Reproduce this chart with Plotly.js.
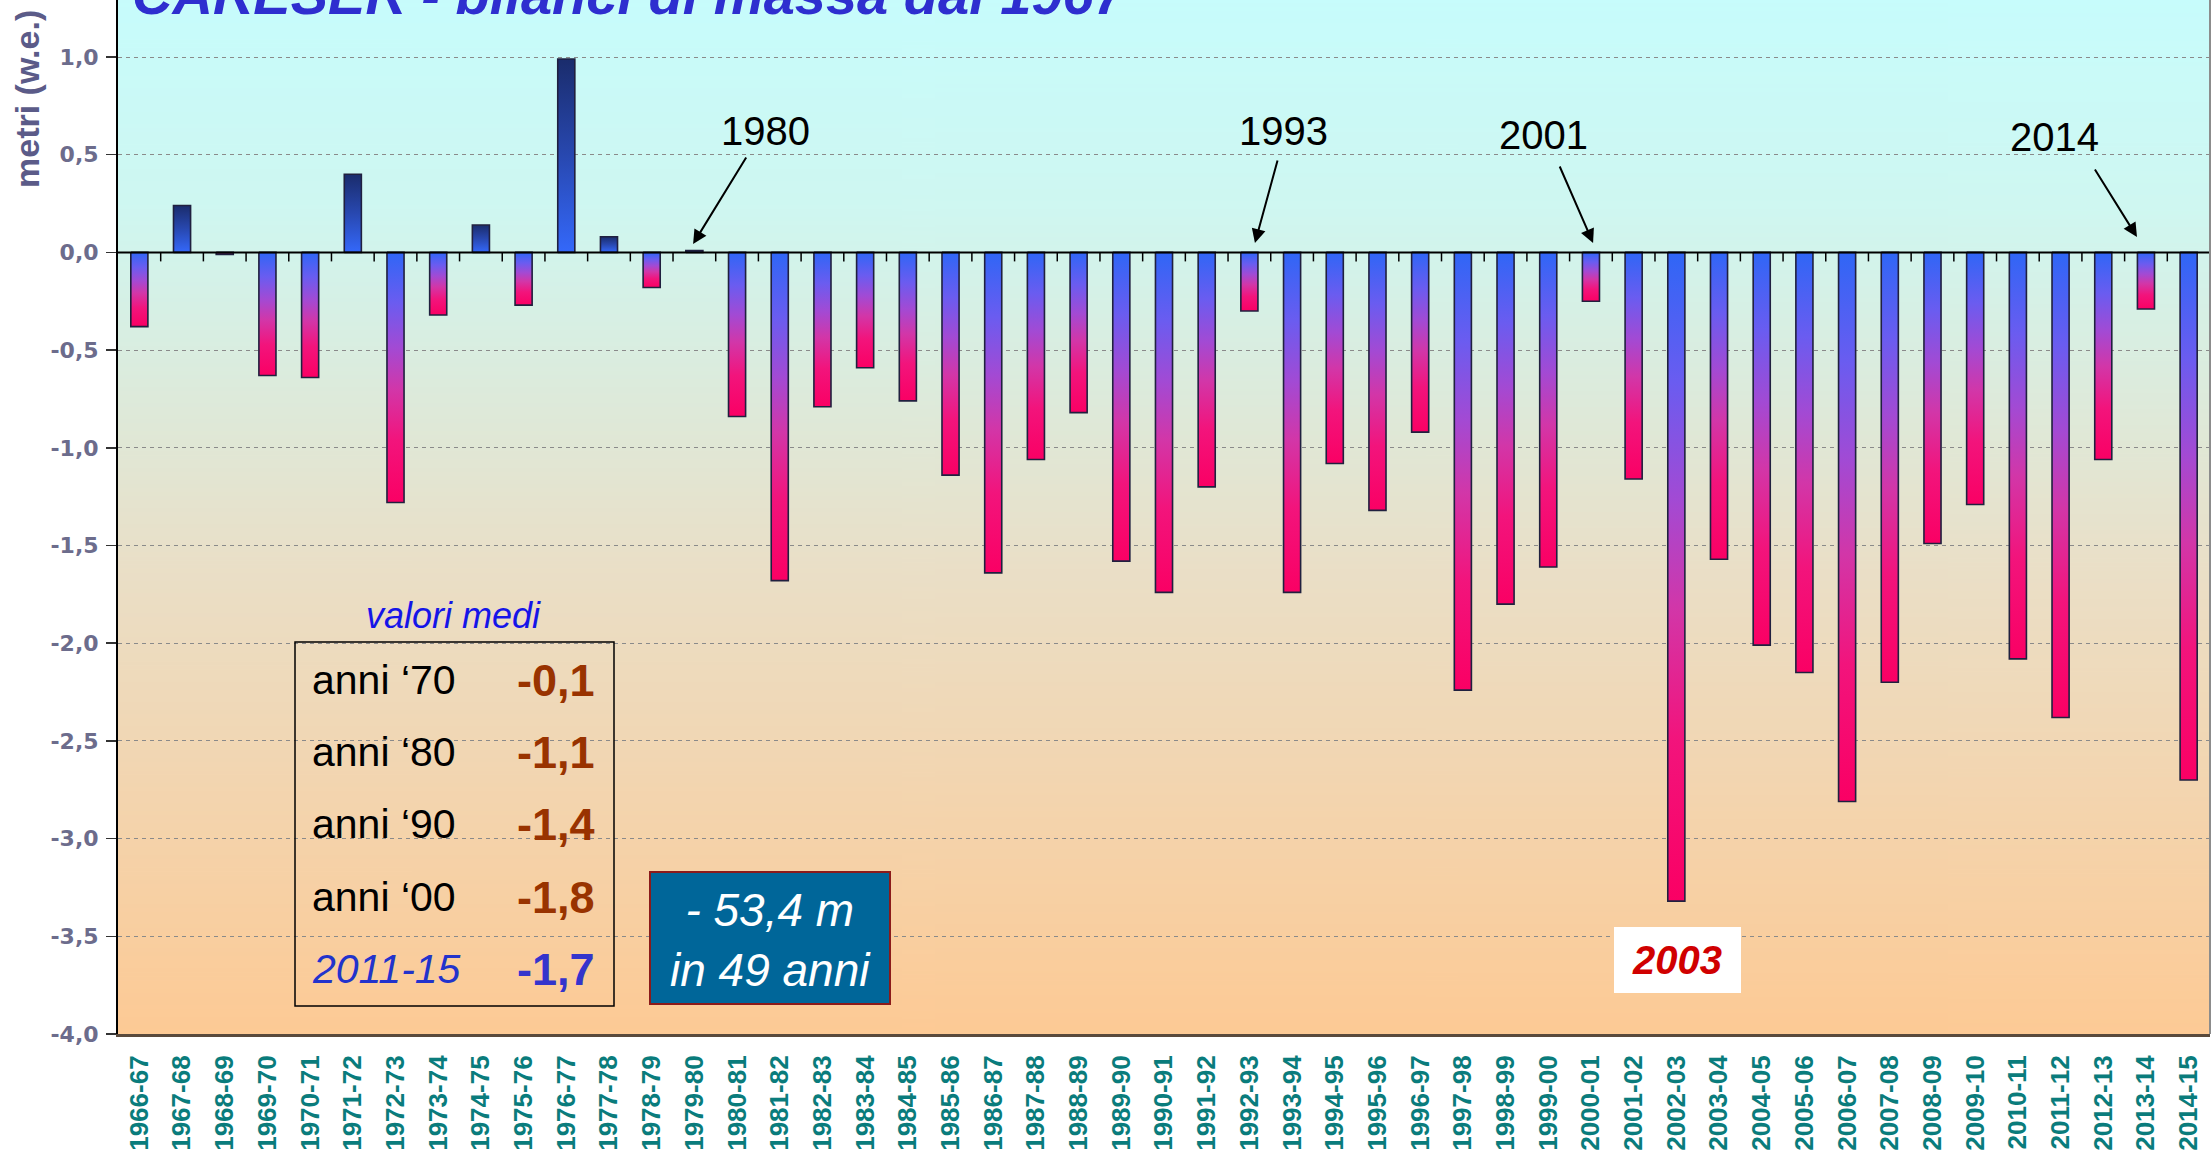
<!DOCTYPE html>
<html>
<head>
<meta charset="utf-8">
<script src="https://cdn.plot.ly/plotly-3.0.1.min.js"></script>
<style>
  html, body { margin: 0; padding: 0; background: #ffffff; }
  #chart { width: 2212px; height: 1175px; }
</style>
</head>
<body>
<div id="chart"></div>
<script>
// ---------------- DATA ----------------
const seasons = [
  "1966-67","1967-68","1968-69","1969-70","1970-71","1971-72","1972-73","1973-74","1974-75","1975-76",
  "1976-77","1977-78","1978-79","1979-80","1980-81","1981-82","1982-83","1983-84","1984-85","1985-86",
  "1986-87","1987-88","1988-89","1989-90","1990-91","1991-92","1992-93","1993-94","1994-95","1995-96",
  "1996-97","1997-98","1998-99","1999-00","2000-01","2001-02","2002-03","2003-04","2004-05","2005-06",
  "2006-07","2007-08","2008-09","2009-10","2010-11","2011-12","2012-13","2013-14","2014-15"
];
// annual mass balance, metres water equivalent
const balance = [
  -0.38, 0.24, -0.01, -0.63, -0.64, 0.40, -1.28, -0.32, 0.14, -0.27,
   0.99, 0.08, -0.18, 0.01, -0.84, -1.68, -0.79, -0.59, -0.76, -1.14,
  -1.64, -1.06, -0.82, -1.58, -1.74, -1.20, -0.30, -1.74, -1.08, -1.32,
  -0.92, -2.24, -1.80, -1.61, -0.25, -1.16, -3.32, -1.57, -2.01, -2.15,
  -2.81, -2.20, -1.49, -1.29, -2.08, -2.38, -1.06, -0.29, -2.70
];
const yTickVals = [1.0, 0.5, 0.0, -0.5, -1.0, -1.5, -2.0, -2.5, -3.0, -3.5, -4.0];
const yTickText = ["1,0","0,5","0,0","-0,5","-1,0","-1,5","-2,0","-2,5","-3,0","-3,5","-4,0"];

const meanLabels = ["anni \u201870", "anni \u201880", "anni \u201890", "anni \u201800", "2011-15"];
const meanValues = [-0.1, -1.1, -1.4, -1.8, -1.7];

const highlightedYears = ["1980", "1993", "2001", "2014"];
const recordYear = "2003";
const totalLoss = -53.4;      // metres
const totalYears = 49;

const titleText = "CARESER - bilanci di massa dal 1967";
const yTitleText = "metri (w.e.)";

// ---------------- STYLE ----------------
const fmt = v => (v < 0 ? "-" : "") + Math.abs(v).toFixed(1).replace(".", ",");
const halfW = 0.2;
const negScale = [[0,'#FA0064'],[0.25,'#F2147C'],[0.45,'#D236A8'],[0.62,'#A24AD4'],[0.8,'#6A5CF0'],[1,'#2F66F6']];
const posScale = [[0,'#3468FA'],[0.5,'#2848B0'],[1,'#1A2C6C']];

// plot area geometry (pixels) for paper-space placement
const PL = 118, PW = 2092, PT = 0, PH = 1034;
const px = x => (x - PL) / PW;
const py = y => (PH - y) / PH;

// background gradient image
const cv = document.createElement('canvas');
cv.width = 4; cv.height = 512;
const ctx = cv.getContext('2d');
const grd = ctx.createLinearGradient(0, 0, 0, 512);
grd.addColorStop(0, '#C7FCFC');
grd.addColorStop(0.2, '#CFF7F1');
grd.addColorStop(0.55, '#EADFC7');
grd.addColorStop(1, '#FDCA95');
ctx.fillStyle = grd; ctx.fillRect(0, 0, 4, 512);
const bgSrc = cv.toDataURL();

// ---------------- TRACES ----------------
const traces = balance.map((v, i) => ({
  type: 'scatter',
  mode: 'lines',
  x: [i - halfW, i + halfW, i + halfW, i - halfW, i - halfW],
  y: [0, 0, v, v, 0],
  fill: 'toself',
  fillgradient: { type: 'vertical', colorscale: v < 0 ? negScale : posScale },
  line: { color: '#20203F', width: 1.6 },
  hoverinfo: 'text',
  text: seasons[i] + ': ' + fmt(v),
  showlegend: false
}));

// ---------------- ANNOTATIONS ----------------
const ann = [];
ann.push({ xref:'paper', yref:'paper', x: px(130), y: py(28), xanchor:'left', yanchor:'bottom',
  text: '<b><i>' + titleText + '</i></b>', showarrow:false,
  font:{ family:'Liberation Sans, Arial, sans-serif', size:56, color:'#2E2ECF' } });
ann.push({ xref:'paper', yref:'paper', x: px(27), y: py(99), xanchor:'center', yanchor:'middle',
  textangle:-90, text:'<b>' + yTitleText + '</b>', showarrow:false,
  font:{ family:'Liberation Sans, Arial, sans-serif', size:34, color:'#5B5B88' } });

// year call-outs: text + arrow
const callText = [[14.66, 0.621], [26.81, 0.621], [32.88, 0.601], [44.85, 0.591]];
const callTip  = [[12.97, 0.043, 54, -88], [26.13, 0.048, 23, -84], [34.05, 0.048, -34, -78], [46.79, 0.079, -43, -69]];
highlightedYears.forEach((yr, k) => {
  ann.push({ xref:'x', yref:'y', x: callText[k][0], y: callText[k][1], xanchor:'center', yanchor:'middle',
    text: yr, showarrow:false,
    font:{ family:'Liberation Sans, Arial, sans-serif', size:40, color:'#000000' } });
  ann.push({ xref:'x', yref:'y', x: callTip[k][0], y: callTip[k][1], ax: callTip[k][2], ay: callTip[k][3],
    text:'', showarrow:true, arrowhead:2, arrowsize:1.4, arrowwidth:2, arrowcolor:'#000000', standoff:0 });
});

// mean values table
ann.push({ xref:'paper', yref:'paper', x: px(453), y: py(615), xanchor:'center', yanchor:'middle',
  text:'<i>valori medi</i>', showarrow:false,
  font:{ family:'Liberation Sans, Arial, sans-serif', size:36, color:'#1515E8' } });
const rowY = [680, 752, 824, 897, 969];
meanLabels.forEach((lab, k) => {
  const last = k === meanLabels.length - 1;
  ann.push({ xref:'paper', yref:'paper', x: px(310), y: py(rowY[k]), xanchor:'left', yanchor:'middle',
    text: last ? '<i>' + lab + '</i>' : lab, showarrow:false,
    font:{ family:'Liberation Sans, Arial, sans-serif', size:41, color: last ? '#2233CC' : '#000000' } });
  ann.push({ xref:'paper', yref:'paper', x: px(597), y: py(rowY[k]), xanchor:'right', yanchor:'middle',
    text: '<b>' + fmt(meanValues[k]) + '</b>', showarrow:false,
    font:{ family:'Liberation Sans, Arial, sans-serif', size:45, color: last ? '#3434CC' : '#993300' } });
});

// total loss box text
ann.push({ xref:'paper', yref:'paper', x: px(770), y: py(940), xanchor:'center', yanchor:'middle',
  text: '<i>- ' + Math.abs(totalLoss).toFixed(1).replace('.', ',') + ' m<br>in ' + totalYears + ' anni</i>',
  showarrow:false, font:{ family:'Liberation Sans, Arial, sans-serif', size:46, color:'#FFFFFF' } });

// record year label
ann.push({ xref:'paper', yref:'paper', x: px(1677), y: py(960), xanchor:'center', yanchor:'middle',
  text: '<b><i>' + recordYear + '</i></b>', showarrow:false,
  font:{ family:'Liberation Sans, Arial, sans-serif', size:40, color:'#D00000' } });

// ---------------- SHAPES ----------------
const shapes = [];
// tick marks on zero line at category boundaries
for (let k = 1; k < seasons.length; k++) {
  shapes.push({ type:'line', xref:'x', yref:'y', ysizemode:'pixel', yanchor:0,
    x0:k - 0.5, x1:k - 0.5, y0:0, y1:-9, line:{ color:'#000000', width:1.5 }, layer:'above' });
}
// zero line
shapes.push({ type:'line', xref:'paper', yref:'y', x0:0, x1:1, y0:0, y1:0, line:{ color:'#000000', width:2 }, layer:'above' });
// right border
shapes.push({ type:'line', xref:'paper', yref:'paper', x0:1, x1:1, y0:0, y1:1, line:{ color:'#8C8C8C', width:2 } });
// table box
shapes.push({ type:'rect', xref:'paper', yref:'paper', x0:px(295), x1:px(614), y0:py(1006), y1:py(642),
  line:{ color:'#000000', width:1.5 }, fillcolor:'rgba(0,0,0,0)' });
// total loss box
shapes.push({ type:'rect', xref:'paper', yref:'paper', x0:px(650), x1:px(890), y0:py(1004), y1:py(872),
  line:{ color:'#8B1A1A', width:2 }, fillcolor:'#006699' });
// record year box
shapes.push({ type:'rect', xref:'paper', yref:'paper', x0:px(1614), x1:px(1741), y0:py(993), y1:py(927),
  line:{ width:0 }, fillcolor:'#FFFFFF' });

// ---------------- LAYOUT ----------------
const layout = {
  width: 2212, height: 1175,
  margin: { l: PL, r: 2212 - PL - PW, t: PT, b: 1175 - PH },
  paper_bgcolor: '#FFFFFF',
  plot_bgcolor: '#E2E8D8',
  showlegend: false,
  images: [{ source: bgSrc, xref:'paper', yref:'paper', x:0, y:1, sizex:1, sizey:1,
    sizing:'stretch', xanchor:'left', yanchor:'top', layer:'below' }],
  xaxis: {
    type: 'linear', range: [-0.5, seasons.length - 0.5], fixedrange: true,
    tickmode: 'array', tickvals: seasons.map((s, i) => i), ticktext: seasons,
    tickangle: -90, ticks: '', showgrid: false, zeroline: false,
    showline: true, linecolor: '#5A4A3C', linewidth: 3,
    ticklabelstandoff: 8,
    tickfont: { family: 'Liberation Sans, Arial, sans-serif', size: 26, color: '#0A7C7C', weight: 'bold' }
  },
  yaxis: {
    range: [-4, 1.2917], fixedrange: true,
    tickmode: 'array', tickvals: yTickVals, ticktext: yTickText,
    ticks: 'outside', ticklen: 10, tickwidth: 1.5, tickcolor: '#333333',
    ticklabelstandoff: 3,
    showgrid: true, gridcolor: '#8A8A8A', gridwidth: 1, griddash: '4px,4px',
    zeroline: false,
    showline: true, linecolor: '#000000', linewidth: 2,
    tickfont: { family: 'DejaVu Sans, sans-serif', size: 22, color: '#6C6C8C', weight: 'bold' }
  },
  annotations: ann,
  shapes: shapes
};

Plotly.newPlot('chart', traces, layout, { displayModeBar: false, staticPlot: true });
</script>
</body>
</html>
